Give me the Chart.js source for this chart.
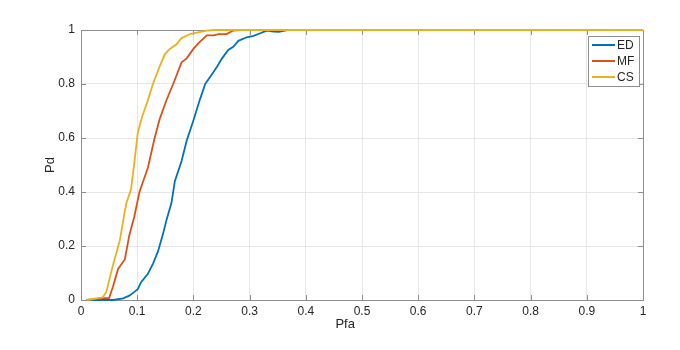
<!DOCTYPE html>
<html>
<head>
<meta charset="utf-8">
<script src="https://cdn.jsdelivr.net/npm/chart.js@4"></script>
<style>
  html, body { margin: 0; padding: 0; background: #fff; }
  #wrap { width: 680px; height: 350px; }
</style>
</head>
<body>
<div id="wrap"><canvas id="chart" width="680" height="350"></canvas></div>
<script>
// values
const seriesNames = ['ED', 'MF', 'CS'];
const seriesColors = ['#0072BD', '#D95319', '#EDB120'];

const edX = [0.01, 0.057, 0.075, 0.086, 0.095, 0.101, 0.107, 0.119, 0.128, 0.137, 0.146, 0.152, 0.161, 0.167, 0.179, 0.188, 0.2, 0.212, 0.221, 0.23, 0.242, 0.251, 0.262, 0.271, 0.28, 0.295, 0.307, 0.319, 0.331, 0.343, 0.352, 0.367, 0.4, 1];
const edY = [0, 0, 0.006, 0.016, 0.03, 0.04, 0.066, 0.097, 0.134, 0.18, 0.245, 0.295, 0.36, 0.44, 0.515, 0.59, 0.665, 0.745, 0.8, 0.827, 0.864, 0.895, 0.926, 0.938, 0.96, 0.973, 0.978, 0.988, 0.998, 0.994, 0.993, 1, 1, 1];

const mfX = [0.01, 0.039, 0.05, 0.057, 0.066, 0.078, 0.086, 0.095, 0.104, 0.119, 0.131, 0.14, 0.152, 0.164, 0.179, 0.188, 0.2, 0.21, 0.224, 0.236, 0.245, 0.259, 0.271, 0.283, 1];
const mfY = [0, 0.007, 0.007, 0.05, 0.115, 0.15, 0.24, 0.31, 0.4, 0.49, 0.6, 0.67, 0.74, 0.8, 0.88, 0.895, 0.93, 0.953, 0.98, 0.98, 0.985, 0.985, 0.998, 1, 1];

const csX = [0.01, 0.039, 0.045, 0.057, 0.069, 0.078, 0.081, 0.089, 0.095, 0.101, 0.109, 0.119, 0.128, 0.139, 0.149, 0.158, 0.169, 0.179, 0.194, 0.206, 0.224, 0.236, 1];
const csY = [0, 0.01, 0.03, 0.13, 0.22, 0.33, 0.36, 0.41, 0.51, 0.62, 0.68, 0.74, 0.8, 0.86, 0.91, 0.93, 0.945, 0.97, 0.985, 0.99, 0.998, 1, 1];

const xTickLabels = ['0', '0.1', '0.2', '0.3', '0.4', '0.5', '0.6', '0.7', '0.8', '0.9', '1'];
const yTickLabels = ['0', '0.2', '0.4', '0.6', '0.8', '1'];
const xTitle = 'Pfa';
const yTitle = 'Pd';

const fontFamily = '"Liberation Sans", Arial, Helvetica, sans-serif';
const textColor = '#262626';
const axisColor = '#8f8f8f';

function toPoints(xs, ys) {
    return xs.map((x, i) => ({ x: x, y: ys[i] }));
}

const allX = [edX, mfX, csX];
const allY = [edY, mfY, csY];

// box + inward ticks on all four sides, MATLAB style (under the lines)
const boxTicks = {
    id: 'boxTicks',
    beforeDatasetsDraw(chart) {
        const ctx = chart.ctx;
        const a = chart.chartArea;
        const len = 5;
        ctx.save();
        ctx.strokeStyle = axisColor;
        ctx.lineWidth = 1;
        ctx.beginPath();
        chart.scales.x.ticks.forEach(t => {
            const px = Math.round(chart.scales.x.getPixelForValue(t.value)) + 0.5;
            ctx.moveTo(px, a.bottom); ctx.lineTo(px, a.bottom - len);
            ctx.moveTo(px, a.top); ctx.lineTo(px, a.top + len);
        });
        chart.scales.y.ticks.forEach(t => {
            const py = Math.round(chart.scales.y.getPixelForValue(t.value)) + 0.5;
            ctx.moveTo(a.left, py); ctx.lineTo(a.left + len, py);
            ctx.moveTo(a.right, py); ctx.lineTo(a.right - len, py);
        });
        ctx.stroke();
        ctx.strokeRect(Math.round(a.left) + 0.5, Math.round(a.top) + 0.5,
            Math.round(a.right - a.left), Math.round(a.bottom - a.top));
        // x axis title, sits a little left of centre like the source
        ctx.fillStyle = textColor;
        ctx.font = '13px ' + fontFamily;
        ctx.textAlign = 'center';
        ctx.textBaseline = 'middle';
        ctx.fillText(xTitle, chart.scales.x.getPixelForValue(0.47), 324);
        ctx.restore();
    }
};

// legend box in the upper right corner of the axes
const insideLegend = {
    id: 'insideLegend',
    afterDraw(chart) {
        const ctx = chart.ctx;
        const a = chart.chartArea;
        const x0 = a.right - 55, y0 = a.top + 6, w = 51, h = 50;
        ctx.save();
        ctx.fillStyle = '#fff';
        ctx.fillRect(x0, y0, w, h);
        ctx.strokeStyle = axisColor;
        ctx.lineWidth = 1;
        ctx.strokeRect(x0 + 0.5, y0 + 0.5, w, h);
        ctx.font = '12px ' + fontFamily;
        ctx.textBaseline = 'middle';
        chart.data.datasets.forEach((ds, i) => {
            const ry = y0 + 9 + i * 16;
            ctx.strokeStyle = ds.borderColor;
            ctx.lineWidth = 2;
            ctx.beginPath();
            ctx.moveTo(x0 + 4, ry);
            ctx.lineTo(x0 + 27, ry);
            ctx.stroke();
            ctx.fillStyle = textColor;
            ctx.fillText(ds.label, x0 + 29, ry + 1);
        });
        ctx.restore();
    }
};

new Chart(document.getElementById('chart'), {
    type: 'scatter',
    data: {
        datasets: seriesNames.map((name, i) => ({
            label: name,
            data: toPoints(allX[i], allY[i]),
            showLine: true,
            borderColor: seriesColors[i],
            backgroundColor: seriesColors[i],
            borderWidth: 1.8,
            pointRadius: 0,
            tension: 0,
            clip: 3,
            // later series painted on top, like MATLAB
            order: seriesNames.length - i
        }))
    },
    options: {
        responsive: false,
        animation: false,
        layout: { padding: { left: 39, right: 37, top: 30, bottom: 13 } },
        plugins: {
            legend: { display: false },
            tooltip: { enabled: false }
        },
        scales: {
            x: {
                type: 'linear',
                min: 0,
                max: 1,
                afterBuildTicks(scale) {
                    scale.ticks = xTickLabels.map(l => ({ value: parseFloat(l) }));
                },
                afterFit(scale) {
                    scale.height = 37;
                    scale.paddingLeft = 0;
                    scale.paddingRight = 0;
                },
                ticks: {
                    padding: 4,
                    color: textColor,
                    font: { family: fontFamily, size: 12 },
                    maxRotation: 0,
                    callback: (v, i) => xTickLabels[i]
                },
                grid: { color: '#e6e6e6', drawTicks: false },
                border: { display: false }
            },
            y: {
                type: 'linear',
                min: 0,
                max: 1,
                afterBuildTicks(scale) {
                    scale.ticks = yTickLabels.map(l => ({ value: parseFloat(l) }));
                },
                afterFit(scale) {
                    scale.width = 42;
                    scale.paddingTop = 0;
                    scale.paddingBottom = 0;
                },
                ticks: {
                    padding: 6,
                    color: textColor,
                    font: { family: fontFamily, size: 12 },
                    callback: (v, i) => yTickLabels[i]
                },
                grid: { color: '#e6e6e6', drawTicks: false },
                border: { display: false },
                title: {
                    display: true,
                    text: yTitle,
                    color: textColor,
                    font: { family: fontFamily, size: 13 },
                    padding: { top: 4, bottom: 4 }
                }
            }
        }
    },
    plugins: [boxTicks, insideLegend]
});
</script>
</body>
</html>
